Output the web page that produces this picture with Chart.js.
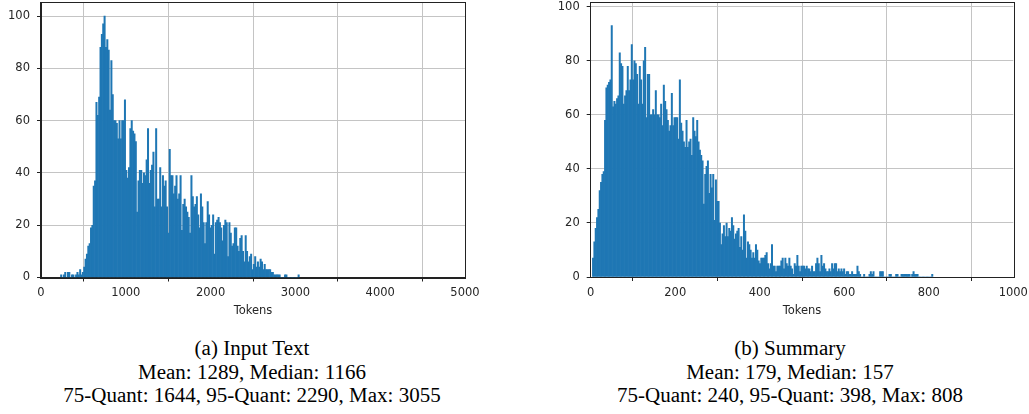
<!DOCTYPE html>
<html>
<head>
<meta charset="utf-8">
<script src="https://cdn.jsdelivr.net/npm/chart.js@4.4.1/dist/chart.umd.min.js"></script>
<style>
    body { margin: 0; background: #fff; width: 1029px; height: 414px; position: relative; overflow: hidden; }
    canvas { position: absolute; top: 0; }
    #chartInput { left: 0; }
    #chartSummary { left: 550px; }
    .caption {
        position: absolute; top: 337px; width: 500px;
        font-family: 'Liberation Serif', 'Times New Roman', serif;
        font-size: 20px; line-height: 23.5px; color: #000;
        text-align: center; transform: scaleX(1.05);
    }
    #captionInput { left: 2px; }
    #captionSummary { left: 540px; }
</style>
</head>
<body>
<canvas id="chartInput" width="480" height="320"></canvas>
<canvas id="chartSummary" width="479" height="320"></canvas>
<div class="caption" id="captionInput"></div>
<div class="caption" id="captionSummary"></div>
<script>
// (a) Input Text: histogram of token counts, bins of 16 tokens starting at 230
const inputBinStart = 230;
const inputBinWidth = 16;
const inputCounts = [
    1, 0, 1, 2, 0, 2, 2, 0, 1, 1,
    0, 1, 2, 1, 3, 1, 2, 4, 7, 9,
    12, 13, 19, 20, 35, 37, 67, 62, 69, 88,
    93, 97, 100, 88, 91, 87, 64, 83, 70, 60,
    60, 59, 53, 60, 53, 60, 60, 68, 41, 38,
    42, 57, 60, 56, 55, 52, 25, 37, 41, 41,
    36, 40, 39, 45, 57, 36, 41, 43, 48, 27,
    57, 30, 30, 42, 27, 39, 35, 37, 27, 17,
    49, 39, 39, 32, 35, 39, 30, 32, 39, 18,
    28, 30, 27, 25, 23, 17, 39, 31, 27, 28,
    31, 24, 19, 32, 27, 21, 13, 21, 29, 24,
    19, 20, 24, 9, 21, 22, 23, 21, 19, 14,
    20, 22, 21, 8, 21, 17, 12, 13, 19, 19,
    12, 10, 15, 16, 10, 6, 16, 10, 6, 8,
    9, 3, 5, 8, 4, 6, 4, 7, 6, 3,
    5, 3, 3, 3, 3, 2, 2, 1, 1, 1,
    1, 1, 0, 0, 0, 1, 1, 0, 0, 0,
    0, 0, 0, 0, 0, 1
];
const inputXTicks = [0, 1000, 2000, 3000, 4000, 5000];
const inputCaption = ['(a) Input Text', 'Mean: 1289, Median: 1166', '75-Quant: 1644, 95-Quant: 2290, Max: 3055'];

// (b) Summary: bins of 3.16 tokens starting at 4
const summaryBinStart = 4;
const summaryBinWidth = 3.16;
const summaryCounts = [
    7, 13, 18, 22, 25, 32, 35, 38, 39, 58,
    70, 71, 72, 73, 93, 63, 65, 64, 66, 67,
    83, 79, 78, 64, 67, 69, 78, 69, 73, 86,
    73, 80, 79, 75, 64, 78, 73, 64, 80, 85,
    59, 75, 75, 60, 60, 62, 60, 69, 60, 60,
    59, 64, 56, 71, 65, 62, 58, 54, 56, 68,
    56, 59, 59, 59, 51, 73, 57, 54, 50, 48,
    58, 48, 50, 51, 45, 59, 54, 52, 58, 50,
    47, 45, 43, 27, 38, 41, 43, 31, 38, 33,
    38, 21, 36, 28, 28, 20, 12, 16, 19, 15,
    20, 15, 18, 17, 22, 19,
    14, 16, 17, 18, 11, 15, 10, 23, 17, 7,
    13, 12, 10, 7, 9, 7, 12, 10, 6, 5,
    7, 7, 7, 8, 9, 5, 3, 5, 12, 4,
    4, 2, 4, 4, 4, 6, 7, 3, 7, 5,
    4, 7, 4, 3, 1, 5, 4, 8, 4, 2,
    4, 4, 4, 3, 4, 3,
    3, 2, 4, 2, 2, 5, 7, 5, 2, 8,
    4, 5, 3, 2, 2, 3, 2, 5, 3, 5,
    5, 2, 3, 2, 3, 2, 3, 1, 2, 2,
    1, 1, 2, 1, 1, 1, 4, 2, 1, 0,
    0, 1, 0, 0, 0, 1, 2, 1, 2, 0,
    0, 0, 0, 2, 2, 2, 0, 0, 0, 0,
    1, 1, 0, 0, 0, 1, 1, 0, 0, 1,
    1, 1, 1, 1, 1, 1, 0, 1, 2, 1,
    1, 1, 0, 0, 0, 0, 0, 0, 0, 0,
    0, 0, 1
];
const summaryXTicks = [0, 200, 400, 600, 800, 1000];
const summaryCaption = ['(b) Summary', 'Mean: 179, Median: 157', '75-Quant: 240, 95-Quant: 398, Max: 808'];

const yTicks = [0, 20, 40, 60, 80, 100];

const barColor = '#1f77b4';
const gridColor = '#c4c4c4';
const axisColor = '#222';
const tickFont = { family: "'DejaVu Sans', sans-serif", size: 11.5 };

// black frame on all four sides like matplotlib spines
const framePlugin = {
    id: 'frame',
    afterDraw(chart) {
        const a = chart.chartArea;
        const ctx = chart.ctx;
        ctx.save();
        ctx.strokeStyle = axisColor;
        ctx.lineWidth = 1;
        ctx.strokeRect(Math.round(a.left) - 0.5, Math.round(a.top) - 0.5,
            Math.round(a.right - a.left) + 1, Math.round(a.bottom - a.top) + 1);
        ctx.restore();
    }
};

function toPoints(start, width, counts) {
    return counts.map((c, i) => ({ x: start + (i + 0.5) * width, y: c }));
}

function makeHistogram(canvasId, points, xTicks, xMax, yMax, yAxisWidth, padRight, xAxisHeight) {
    new Chart(document.getElementById(canvasId).getContext('2d'), {
        type: 'bar',
        data: {
            datasets: [{
                data: points,
                backgroundColor: barColor,
                borderWidth: 0,
                barPercentage: 1,
                categoryPercentage: 1
            }]
        },
        options: {
            responsive: false,
            animation: false,
            devicePixelRatio: 1,
            layout: { padding: { top: 3, right: padRight, left: 0, bottom: 0 } },
            plugins: { legend: { display: false }, tooltip: { enabled: false } },
            scales: {
                x: {
                    type: 'linear',
                    min: 0,
                    max: xMax,
                    offset: false,
                    z: 1,
                    afterBuildTicks: s => { s.ticks = xTicks.map(v => ({ value: v })); },
                    afterFit: s => {
                        s.height = xAxisHeight;
                        s.paddingLeft = 0;
                        s.paddingRight = 0;
                    },
                    grid: { color: gridColor, lineWidth: 1, tickLength: 4, tickColor: axisColor },
                    border: { color: axisColor },
                    ticks: {
                        font: tickFont, color: '#262626', padding: 5, maxRotation: 0,
                        callback: v => String(v)
                    },
                    title: {
                        display: true, text: 'Tokens', font: tickFont, color: '#262626',
                        padding: { top: 0, bottom: 2 }
                    }
                },
                y: {
                    min: 0,
                    max: yMax,
                    z: 1,
                    afterBuildTicks: s => { s.ticks = yTicks.map(v => ({ value: v })); },
                    afterFit: s => {
                        s.width = yAxisWidth;
                        s.paddingTop = 0;
                        s.paddingBottom = 0;
                    },
                    grid: { color: gridColor, lineWidth: 1, tickLength: 4, tickColor: axisColor },
                    border: { color: axisColor },
                    ticks: { font: tickFont, color: '#262626', padding: 7, callback: v => String(v) }
                }
            }
        },
        plugins: [framePlugin]
    });
}

makeHistogram('chartInput', toPoints(inputBinStart, inputBinWidth, inputCounts),
    inputXTicks, 5000, 105, 41, 15, 42.5);
makeHistogram('chartSummary', toPoints(summaryBinStart, summaryBinWidth, summaryCounts),
    summaryXTicks, 1000, 101.4, 40.7, 15.7, 43);

document.getElementById('captionInput').innerHTML = inputCaption.join('<br>');
document.getElementById('captionSummary').innerHTML = summaryCaption.join('<br>');
</script>
</body>
</html>
